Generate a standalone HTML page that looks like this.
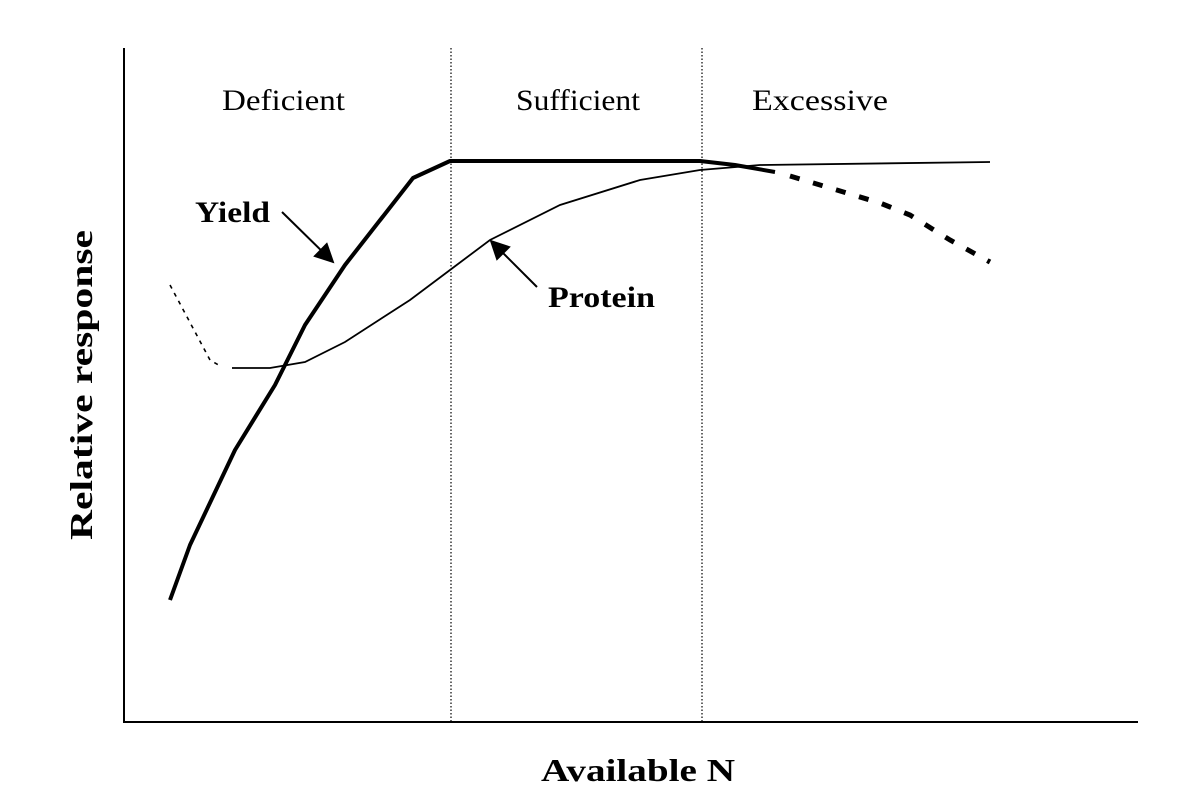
<!DOCTYPE html>
<html><head><style>body{margin:0;background:#fff}</style></head><body>
<svg width="1200" height="791" xmlns="http://www.w3.org/2000/svg" font-family="Liberation Serif, serif">
<defs><marker id="ah" viewBox="0 0 10 10" refX="9" refY="5" markerWidth="12" markerHeight="10" markerUnits="userSpaceOnUse" orient="auto"><path d="M0,0L10,5L0,10z" fill="#000"/></marker>
<marker id="ah2" viewBox="0 0 10 10" refX="9" refY="5" markerWidth="24" markerHeight="20" markerUnits="userSpaceOnUse" orient="auto"><path d="M0,0L10,5L0,10z" fill="#000"/></marker></defs>
<line x1="124" y1="48" x2="124" y2="722" stroke="#000" stroke-width="2"/>
<line x1="123" y1="722" x2="1138" y2="722" stroke="#000" stroke-width="2"/>
<line x1="451" y1="48" x2="451" y2="722" stroke="#000" stroke-width="1.2" stroke-dasharray="1.5,2"/>
<line x1="702" y1="48" x2="702" y2="722" stroke="#000" stroke-width="1.2" stroke-dasharray="1.5,2"/>
<g font-size="30">
<text x="222" y="110" textLength="123" lengthAdjust="spacingAndGlyphs">Deficient</text>
<text x="516" y="110" textLength="124" lengthAdjust="spacingAndGlyphs">Sufficient</text>
<text x="752" y="110" textLength="136" lengthAdjust="spacingAndGlyphs">Excessive</text>
</g>
<polyline fill="none" stroke="#000" stroke-width="1.8" points="232,368 270,368 305,362 345,342 410,300 450,270 490,240 560,205 640,180 700,170 760,165 990,162"/>
<polyline fill="none" stroke="#000" stroke-width="1.6" stroke-dasharray="4,5" points="170,285 210,360 222,367"/>
<polyline fill="none" stroke="#000" stroke-width="4" stroke-linejoin="round" points="170,600 190,545 235,450 275,385 305,325 345,265 413,178 450,161 700,161 735,165 775,172"/>
<polyline fill="none" stroke="#000" stroke-width="5" stroke-dasharray="10,14" points="790,176 830,188 880,203 910,215 950,240 990,262"/>
<line x1="282" y1="212" x2="333" y2="262" stroke="#000" stroke-width="2" marker-end="url(#ah2)"/>
<line x1="537" y1="287" x2="491" y2="241" stroke="#000" stroke-width="2" marker-end="url(#ah2)"/>
<g font-size="30" font-weight="bold">
<text x="195" y="222" textLength="75" lengthAdjust="spacingAndGlyphs">Yield</text>
<text x="548" y="307" textLength="107" lengthAdjust="spacingAndGlyphs">Protein</text>
<text x="541" y="781" font-size="32" textLength="194" lengthAdjust="spacingAndGlyphs">Available N</text>
<text transform="translate(92,540) rotate(-90)" font-size="32" textLength="310" lengthAdjust="spacingAndGlyphs">Relative response</text>
</g>
</svg>
</body></html>
